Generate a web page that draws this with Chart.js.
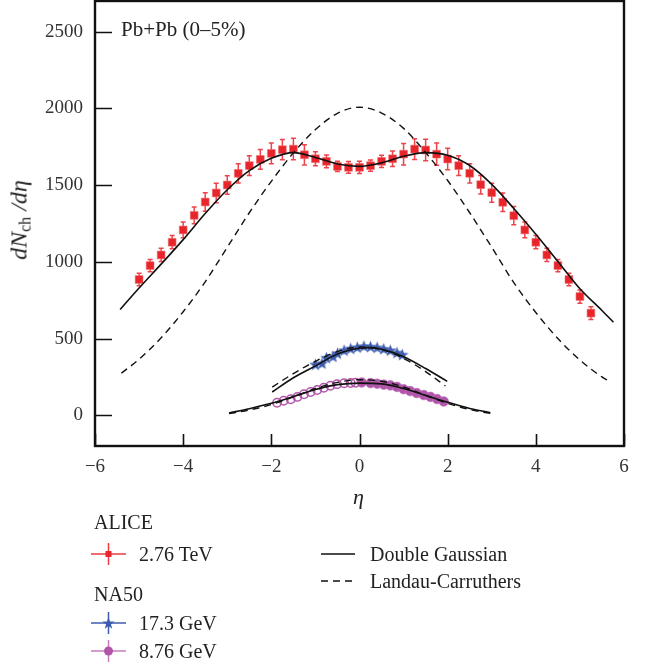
<!DOCTYPE html>
<html>
<head>
<meta charset="utf-8">
<script src="https://cdn.jsdelivr.net/npm/chart.js@4.4.1/dist/chart.umd.min.js"></script>
<style>
  body { margin: 0; background: #fff; }
  #wrap { position: relative; width: 645px; height: 665px; font-family: "Liberation Serif", serif; color: #222; }
  #chart { position: absolute; left: 0; top: 0; }
  .t { position: absolute; font-size: 20px; line-height: 20px; white-space: nowrap; transform: translateY(-50%); }
  .ico { position: absolute; }
  #ytitle { position: absolute; left: 22px; top: 220px; font-size: 24px; line-height: 24px; white-space: nowrap;
            transform: translate(-50%, -50%) rotate(-90deg); }
  #ytitle sub { font-style: normal; font-size: 16px; vertical-align: -4px; }
</style>
</head>
<body>
<div id="wrap">
  <canvas id="chart" width="645" height="665"></canvas>

  <div class="t" style="left:121px; top:29px; font-size:21px;">Pb+Pb (0–5%)</div>
  <div id="ytitle"><i>dN</i><sub>ch</sub> <i>/dη</i></div>
  <div class="t" style="left:353px; top:497px; font-size:22px; font-style:italic;">η</div>

  <div class="t" style="left:94px; top:522px;">ALICE</div>
  <svg class="ico" width="36" height="24" style="left:91px; top:542px;">
    <line x1="0" y1="12" x2="35" y2="12" stroke="#ec3a3e" stroke-width="1.5"/>
    <line x1="17.5" y1="1" x2="17.5" y2="23" stroke="#ec3a3e" stroke-width="1.5"/>
    <rect x="14.5" y="9" width="6" height="6" fill="#e8252b"/>
  </svg>
  <div class="t" style="left:139px; top:554px;">2.76 TeV</div>

  <svg class="ico" width="36" height="40" style="left:321px; top:542px;">
    <line x1="0" y1="12" x2="34" y2="12" stroke="#111" stroke-width="1.5"/>
    <line x1="0" y1="39" x2="34" y2="39" stroke="#111" stroke-width="1.5" stroke-dasharray="7,5"/>
  </svg>
  <div class="t" style="left:370px; top:554px;">Double Gaussian</div>
  <div class="t" style="left:370px; top:581px;">Landau-Carruthers</div>

  <div class="t" style="left:94px; top:594px;">NA50</div>
  <svg class="ico" width="36" height="24" style="left:91px; top:611px;">
    <line x1="0" y1="12" x2="35" y2="12" stroke="#3d5cae" stroke-width="1.5"/>
    <line x1="17.5" y1="1" x2="17.5" y2="23" stroke="#3d5cae" stroke-width="1.5"/>
    <polygon points="17.5,6 19,10.5 23.5,10.5 20,13.3 21.2,17.8 17.5,15 13.8,17.8 15,13.3 11.5,10.5 16,10.5" fill="#3d5cae"/>
  </svg>
  <div class="t" style="left:139px; top:623px;">17.3 GeV</div>
  <svg class="ico" width="36" height="24" style="left:91px; top:639px;">
    <line x1="0" y1="12" x2="35" y2="12" stroke="#c57cbd" stroke-width="1.5"/>
    <line x1="17.5" y1="1" x2="17.5" y2="23" stroke="#c57cbd" stroke-width="1.5"/>
    <circle cx="17.5" cy="12" r="4.5" fill="#b055a8"/>
  </svg>
  <div class="t" style="left:139px; top:651px;">8.76 GeV</div>
</div>

<script>
// ALICE Pb+Pb 2.76 TeV (0-5%)
const aliceEta = [-5.0, -4.75, -4.5, -4.25, -4.0, -3.75, -3.5, -3.25, -3.0, -2.75, -2.5, -2.25, -2.0, -1.75,
  -1.5, -1.25, -1.0, -0.75, -0.5, -0.25, 0, 0.25, 0.5, 0.75, 1.0, 1.25, 1.5, 1.75, 2.0, 2.25, 2.5, 2.75,
  3.0, 3.25, 3.5, 3.75, 4.0, 4.25, 4.5, 4.75, 5.0, 5.25];
const aliceVal = [885, 976, 1045, 1128, 1208, 1303, 1390, 1449, 1501, 1577, 1627, 1668, 1707, 1731,
  1735, 1698, 1672, 1655, 1622, 1616, 1616, 1627, 1655, 1672, 1702, 1735, 1729, 1702, 1670, 1627, 1577, 1503,
  1451, 1388, 1301, 1208, 1128, 1045, 976, 885, 774, 666];
const aliceErr = [41, 40, 43, 43, 51, 54, 60, 63, 60, 63, 65, 65, 67, 66,
  70, 66, 46, 41, 33, 38, 40, 37, 40, 51, 70, 68, 70, 72, 70, 65, 63, 60,
  62, 60, 59, 51, 43, 43, 40, 41, 43, 41];

// Double Gaussian / Landau-Carruthers for ALICE
const dgAliceEta = [-5.43, -5.0, -4.5, -4.0, -3.5, -3.0, -2.5, -2.0, -1.5, -1.0, -0.5, 0, 0.5, 1.0, 1.5, 2.0, 2.5, 3.0, 3.5, 4.0, 4.5, 5.0, 5.5, 5.76];
const dgAliceVal = [690, 830, 985, 1145, 1315, 1470, 1595, 1675, 1712, 1680, 1638, 1622, 1645, 1688, 1712, 1695, 1628, 1505, 1348, 1180, 1003, 825, 683, 607];
const lcAliceEta = [-5.4, -5.0, -4.5, -4.0, -3.5, -3.0, -2.5, -2.0, -1.5, -1.0, -0.5, 0, 0.5, 1.0, 1.5, 2.0, 2.5, 3.0, 3.5, 4.0, 4.5, 5.0, 5.5, 5.65];
const lcAliceVal = [275, 365, 505, 675, 870, 1095, 1320, 1525, 1710, 1862, 1968, 2008, 1970, 1870, 1712, 1530, 1320, 1095, 865, 670, 500, 360, 250, 225];

// NA50 17.3 GeV
const na173Eta = [-1.0, -0.85, -0.75, -0.6, -0.5, -0.35, -0.2, -0.05, 0.1, 0.25, 0.4, 0.55, 0.7, 0.85, 0.97];
const na173Val = [328, 336, 372, 380, 400, 420, 432, 440, 447, 444, 439, 430, 420, 405, 392];
const dg173Eta = [-1.98, -1.5, -1.0, -0.5, 0, 0.25, 0.5, 1.0, 1.5, 1.99];
const dg173Val = [152, 245, 322, 400, 437, 441, 430, 382, 305, 221];
const lc173Eta = [-1.98, -1.5, -1.0, -0.5, 0, 0.5, 1.0, 1.5, 1.95];
const lc173Val = [184, 272, 352, 415, 445, 430, 370, 285, 191];

// NA50 8.76 GeV (open: reflected, filled: measured)
const na876OpenEta = [-1.87, -1.72, -1.56, -1.41, -1.26, -1.11, -0.96, -0.81, -0.66, -0.51, -0.35, -0.2, -0.09];
const na876OpenVal = [82, 95, 105, 120, 137, 152, 165, 180, 193, 203, 209, 211, 212];
const na876FillEta = [0.05, 0.25, 0.4, 0.55, 0.7, 0.85, 1.0, 1.15, 1.3, 1.46, 1.61, 1.76, 1.91];
const na876FillVal = [214, 210, 206, 200, 195, 185, 170, 158, 145, 132, 120, 106, 90];
const dg876Eta = [-2.96, -2.5, -2.0, -1.5, -1.0, -0.5, 0, 0.5, 1.0, 1.5, 2.0, 2.5, 2.97];
const dg876Val = [15, 43, 78, 122, 168, 200, 210, 205, 175, 130, 85, 45, 17];
const lc876Eta = [-2.96, -2.5, -2.0, -1.5, -1.0, -0.5, 0, 0.5, 1.0, 1.5, 2.0, 2.5, 2.97];
const lc876Val = [11, 35, 70, 120, 175, 215, 232, 222, 185, 130, 78, 38, 12];

const RED = '#e8252b';
const BLUE = '#3d5cae';
const MAGENTA = '#b055a8';

const pts = (xs, ys) => xs.map((v, i) => ({ x: v, y: ys[i] }));

function makeStar(r, color) {
  const c = document.createElement('canvas');
  const s = Math.ceil(r * 2 + 2);
  c.width = s; c.height = s;
  const g = c.getContext('2d');
  g.beginPath();
  for (let i = 0; i < 10; i++) {
    const rad = i % 2 ? r * 0.42 : r;
    const a = -Math.PI / 2 + i * Math.PI / 5;
    g.lineTo(s / 2 + rad * Math.cos(a), s / 2 + rad * Math.sin(a));
  }
  g.closePath();
  g.fillStyle = color;
  g.fill();
  return c;
}

function curve(xs, ys, dashed) {
  return {
    data: pts(xs, ys),
    showLine: true,
    borderColor: '#111',
    borderWidth: dashed ? 1.4 : 1.6,
    borderDash: dashed ? [7, 5] : [],
    pointRadius: 0,
    cubicInterpolationMode: 'monotone',
    fill: false
  };
}

// error bars under the ALICE squares
const errorBars = {
  id: 'errorBars',
  beforeDatasetsDraw(chart) {
    const { ctx, scales: { x, y } } = chart;
    ctx.save();
    ctx.strokeStyle = 'rgba(232,37,43,0.85)';
    ctx.lineWidth = 1.5;
    aliceEta.forEach((e, i) => {
      const px = x.getPixelForValue(e);
      const top = y.getPixelForValue(aliceVal[i] + aliceErr[i]);
      const bot = y.getPixelForValue(aliceVal[i] - aliceErr[i]);
      ctx.beginPath();
      ctx.moveTo(px, top); ctx.lineTo(px, bot);
      ctx.moveTo(px - 2.5, top); ctx.lineTo(px + 2.5, top);
      ctx.moveTo(px - 2.5, bot); ctx.lineTo(px + 2.5, bot);
      ctx.stroke();
    });
    ctx.restore();
  }
};

// box frame and inward tick marks
const frame = {
  id: 'frame',
  afterDraw(chart) {
    const { ctx, chartArea: a, scales: { x, y } } = chart;
    ctx.save();
    ctx.strokeStyle = '#111';
    ctx.lineWidth = 1.6;
    ctx.beginPath();
    y.ticks.forEach(t => {
      const py = Math.round(y.getPixelForValue(t.value)) + 0.5;
      const len = t.value % 500 === 0 ? 17 : 8;
      ctx.moveTo(a.left, py); ctx.lineTo(a.left + len, py);
    });
    x.ticks.forEach(t => {
      const px = Math.round(x.getPixelForValue(t.value)) + 0.5;
      const len = t.value % 2 === 0 ? 12 : 6;
      ctx.moveTo(px, a.bottom); ctx.lineTo(px, a.bottom - len);
    });
    ctx.stroke();
    ctx.lineWidth = 2.4;
    ctx.strokeRect(a.left, a.top, a.right - a.left, a.bottom - a.top);
    ctx.restore();
  }
};

Chart.defaults.font.family = "'Liberation Serif', serif";
Chart.defaults.color = '#333';

new Chart(document.getElementById('chart'), {
  type: 'scatter',
  data: {
    datasets: [
      curve(dgAliceEta, dgAliceVal, false),
      curve(lcAliceEta, lcAliceVal, true),
      curve(dg173Eta, dg173Val, false),
      curve(lc173Eta, lc173Val, true),
      curve(dg876Eta, dg876Val, false),
      curve(lc876Eta, lc876Val, true),
      {
        data: pts(aliceEta, aliceVal),
        pointStyle: 'rect',
        pointRadius: 5.5,
        backgroundColor: RED,
        borderColor: 'rgba(240,110,110,0.6)',
        borderWidth: 1
      },
      {
        data: pts(na173Eta, na173Val),
        pointStyle: makeStar(6.5, BLUE),
        pointRadius: 6
      },
      {
        data: pts(na876OpenEta, na876OpenVal),
        pointStyle: 'circle',
        pointRadius: 4.2,
        backgroundColor: 'rgba(0,0,0,0)',
        borderColor: MAGENTA,
        borderWidth: 1.5
      },
      {
        data: pts(na876FillEta, na876FillVal),
        pointStyle: 'circle',
        pointRadius: 4.8,
        backgroundColor: MAGENTA,
        borderColor: 'rgba(190,110,185,0.7)',
        borderWidth: 1
      }
    ]
  },
  options: {
    responsive: false,
    animation: false,
    events: [],
    layout: { autoPadding: false, padding: { left: 0, right: 21, top: 1, bottom: 0 } },
    plugins: { legend: { display: false }, tooltip: { enabled: false } },
    scales: {
      x: {
        type: 'linear',
        min: -6, max: 6,
        grid: { display: false, drawTicks: false },
        border: { display: false },
        afterFit: (s) => { s.height = 219; s.paddingLeft = 0; s.paddingRight = 0; },
        ticks: {
          stepSize: 0.5,
          autoSkip: false,
          maxRotation: 0, minRotation: 0,
          padding: 10,
          font: { size: 19 },
          color: '#333',
          callback: (v) => (v % 2 === 0 ? (v < 0 ? '\u2212' + Math.abs(v) : String(v)) : null)
        }
      },
      y: {
        min: -200, max: 2700,
        grid: { display: false, drawTicks: false },
        border: { display: false },
        afterFit: (s) => { s.width = 95; s.paddingTop = 0; s.paddingBottom = 0; },
        ticks: {
          stepSize: 100,
          autoSkip: false,
          padding: 12,
          font: { size: 19 },
          color: '#333',
          callback: (v) => (v % 500 === 0 ? String(v) : null)
        }
      }
    }
  },
  plugins: [errorBars, frame]
});
</script>
</body>
</html>
